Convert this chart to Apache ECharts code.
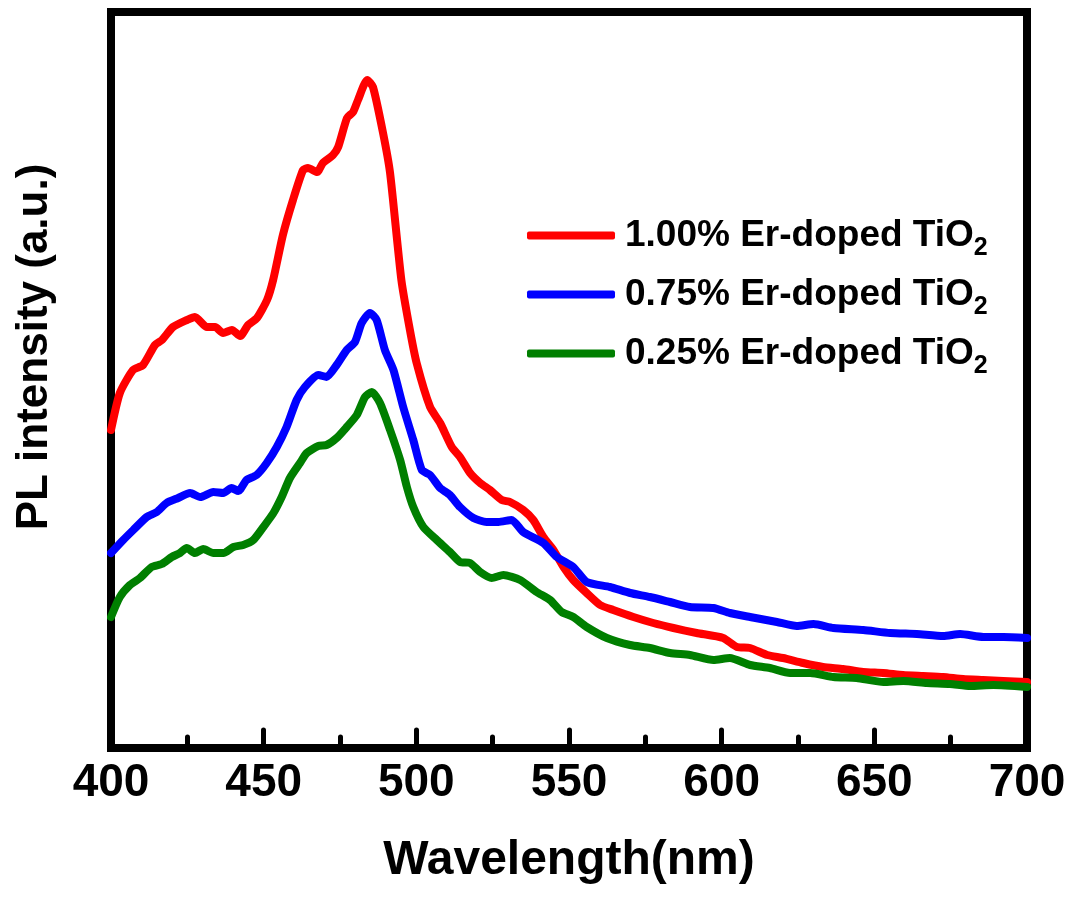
<!DOCTYPE html>
<html>
<head>
<meta charset="utf-8">
<script src="https://cdn.jsdelivr.net/npm/echarts@6/dist/echarts.min.js"></script>
<style>
  html, body { margin: 0; padding: 0; background: #fff; }
  #chart { width: 1075px; height: 897px; }
</style>
</head>
<body>
<div id="chart"></div>
<script>
  // wavelength (nm) / PL intensity (a.u.)
  var redNm = [400, 402.9, 407.2, 410.5, 414.4, 416.7, 420.3, 424.9, 427.5, 431.4, 434.1, 436.7, 439.6, 442.3, 444.9, 447.8, 451.1, 453.1, 456.3, 459.6, 462.9, 464.5, 467.5, 469.4, 472.7, 474.4, 477.3, 479.3, 480.9, 483.9, 485.8, 489.1, 491.4, 495.1, 497.9, 500.1, 504.5, 507.8, 511.6, 514.3, 517.6, 520.9, 524.1, 528.0, 530.7, 535.0, 538.3, 541.6, 544.9, 548.2, 551.4, 555.8, 560.2, 564.5, 571.1, 577.6, 584.2, 591.8, 600.5, 605.0, 609.3, 614.9, 620.1, 626.7, 633.2, 639.8, 646.3, 652.9, 659.4, 666.0, 672.5, 679.1, 685.6, 692.2, 700];
  var redVal = [318, 355, 378, 383, 403, 408, 421, 428, 431, 421, 421, 415, 418, 412, 423, 430, 448, 468, 513, 548, 578, 580, 576, 585, 593, 601, 630, 636, 648, 668, 661, 615, 575, 468, 418, 385, 341, 325, 301, 291, 275, 265, 258, 248, 246, 238, 228, 211, 198, 181, 168, 155, 143, 138, 131, 125, 120, 115, 110, 101, 100, 93, 90, 85, 81, 79, 76, 75, 73, 72, 71, 69, 68, 67, 66];

  var blueNm = [400, 404.0, 407.3, 411.7, 415.0, 418.2, 422.0, 425.9, 429.2, 433.5, 436.8, 439.5, 441.7, 444.4, 447.7, 451.0, 454.3, 457.5, 460.8, 463.5, 467.9, 470.6, 473.9, 477.2, 479.9, 482.1, 484.8, 487.0, 489.7, 492.5, 495.7, 499.0, 501.8, 504.5, 507.8, 511.0, 514.3, 518.7, 523.0, 526.9, 531.2, 535.0, 541.6, 546.0, 551.4, 555.8, 563.4, 570.0, 576.5, 583.1, 589.6, 597.3, 602.7, 609.3, 618.1, 624.6, 630.1, 636.6, 646.4, 655.2, 663.9, 672.6, 678.1, 685.7, 692.3, 700];
  var blueVal = [195, 208, 218, 231, 236, 245, 250, 255, 251, 256, 255, 260, 257, 268, 273, 285, 301, 321, 348, 361, 373, 371, 383, 398, 406, 425, 435, 428, 398, 378, 341, 308, 278, 273, 260, 253, 241, 230, 226, 226, 228, 216, 205, 191, 181, 166, 161, 155, 151, 146, 141, 140, 135, 131, 126, 122, 124, 120, 118, 115, 114, 112, 114, 111, 111, 110];

  var greenNm = [400, 402.9, 406.2, 409.5, 413.3, 416.6, 419.9, 422.6, 424.8, 427.5, 430.2, 433.5, 436.8, 440.1, 443.3, 446.6, 449.9, 453.2, 455.9, 458.6, 461.9, 464.1, 467.9, 470.6, 473.9, 477.2, 480.5, 483.2, 485.4, 488.1, 491.4, 494.7, 496.9, 499.0, 502.3, 506.7, 511.0, 514.3, 517.6, 520.9, 524.7, 528.5, 534.0, 539.4, 543.8, 547.6, 551.4, 555.8, 562.4, 570.0, 576.5, 583.1, 589.6, 597.3, 602.7, 609.3, 615.8, 622.4, 629.0, 636.6, 644.2, 653.0, 659.5, 667.2, 674.8, 681.4, 689.0, 700];
  var greenVal = [131, 151, 163, 170, 181, 184, 191, 195, 200, 195, 199, 195, 195, 201, 203, 208, 221, 235, 251, 270, 285, 295, 302, 303, 310, 321, 333, 351, 356, 345, 318, 288, 261, 241, 221, 208, 196, 186, 185, 176, 170, 173, 168, 156, 148, 136, 131, 121, 110, 103, 100, 95, 93, 88, 90, 83, 80, 75, 75, 71, 70, 66, 67, 65, 64, 62, 63, 61];

  var seriesNames = ['1.00% Er-doped TiO2', '0.75% Er-doped TiO2', '0.25% Er-doped TiO2'];
  var seriesColors = ['#ff0000', '#0000ff', '#007f00'];

  var font = 'Liberation Sans, Arial, Helvetica, sans-serif';

  function zip(xs, ys) {
    return xs.map(function (x, i) { return [x, ys[i]]; });
  }

  var allData = [zip(redNm, redVal), zip(blueNm, blueVal), zip(greenNm, greenVal)];

  var series = [];
  for (var i = 0; i < seriesNames.length; i++) {
    series.push({
      name: seriesNames[i],
      type: 'line',
      data: allData[i],
      showSymbol: false,
      symbol: 'none',
      smooth: 0.2,
      lineStyle: { color: seriesColors[i], width: 8, cap: 'round', join: 'round' },
      itemStyle: { color: seriesColors[i] }
    });
  }

  var option = {
    backgroundColor: '#fff',
    animation: false,
    grid: {
      left: 111, right: 48, top: 12, bottom: 149,
      show: true, borderColor: '#000', borderWidth: 8,
      outerBoundsMode: 'none'
    },
    legend: {
      orient: 'vertical',
      left: 527,
      top: 210,
      padding: 0,
      itemWidth: 88,
      itemHeight: 8,
      itemGap: 8,
      icon: 'roundRect',
      formatter: function (name) {
        // last char is the subscript of TiO2
        return '{t|' + name.slice(0, -1) + '}{s|2}';
      },
      textStyle: {
        rich: {
          t: { fontFamily: font, fontSize: 37, fontWeight: 'bold', color: '#000', lineHeight: 44, padding: [0, 0, 0, 5] },
          s: { fontFamily: font, fontSize: 25, fontWeight: 'bold', color: '#000', lineHeight: 20, padding: [26, 0, 0, 0] }
        }
      }
    },
    xAxis: {
      type: 'value',
      min: 400, max: 700, interval: 50,
      name: 'Wavelength(nm)',
      nameLocation: 'middle',
      nameGap: 89,
      nameTextStyle: { fontFamily: font, fontSize: 48, fontWeight: 'bold', color: '#000' },
      axisLine: { show: false },
      axisTick: { show: true, inside: true, length: 18, lineStyle: { color: '#000', width: 5, cap: 'round' } },
      minorTick: { show: true, splitNumber: 2, length: 11, lineStyle: { color: '#000', width: 5, cap: 'round' } },
      splitLine: { show: false },
      axisLabel: { fontFamily: font, fontSize: 46, fontWeight: 'bold', color: '#000', margin: 12 }
    },
    yAxis: {
      type: 'value',
      min: 0, max: 736,
      name: 'PL intensity (a.u.)',
      nameLocation: 'middle',
      nameGap: 54,
      nameTextStyle: { fontFamily: font, fontSize: 44, fontWeight: 'bold', color: '#000', padding: [0, 0, 0, 66] },
      axisLine: { show: false },
      axisTick: { show: false },
      axisLabel: { show: false },
      splitLine: { show: false }
    },
    series: series
  };

  echarts.init(document.getElementById('chart')).setOption(option);
</script>
</body>
</html>
